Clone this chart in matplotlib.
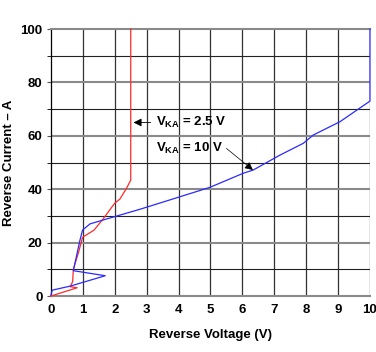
import matplotlib
matplotlib.use('Agg')
import matplotlib.pyplot as plt

plt.rcParams['font.family'] = ['Liberation Sans', 'DejaVu Sans']
plt.rcParams['mathtext.fontset'] = 'custom'
plt.rcParams['mathtext.rm'] = 'Liberation Sans:bold'

# V_KA = 2.5 V curve (red)
red_v = [0, 0.82, 0.6, 0.68, 0.7, 0.87, 0.99, 1.35, 1.63, 2.0, 2.16, 2.37, 2.5, 2.5]
red_i = [0, 3.1, 3.5, 5.4, 10, 16.6, 22, 24.7, 28.8, 34.8, 36.3, 40.4, 43.4, 100]

# V_KA = 10 V curve (blue)
blue_v = [0, 0.04, 0.6, 1.7, 0.7, 0.91, 0.99, 1.22, 1.64, 2.79, 3.78, 4.98,
          6.03, 6.34, 7.18, 7.91, 8.22, 9.06, 9.9, 10, 10]
blue_i = [0.4, 2.2, 3.7, 7.6, 9.5, 21, 24.7, 27, 28.5, 32.5, 36.2, 40.7,
          46, 47.2, 52.8, 57.2, 60.3, 65.3, 72.2, 73, 100]

x_ticks = list(range(0, 11))
y_ticks = [0, 20, 40, 60, 80, 100]

fig = plt.figure(figsize=(3.76, 3.52), dpi=100)
ax = fig.add_axes([0.1356, 0.159, 0.8484, 0.7585])

for xv in x_ticks[1:]:
    ax.axvline(xv, color='#333333', lw=0.9, zorder=1)
for yv in range(10, 100, 10):
    if yv % 20 == 0:
        ax.axhline(yv, color='#8a8a8a', lw=1.5, zorder=1)
    else:
        ax.axhline(yv, color='#222222', lw=0.8, zorder=1)

ax.plot(red_v, red_i, color='#ff2a2a', lw=0.9, zorder=3, clip_on=False)
ax.plot(blue_v, blue_i, color='#2a2aff', lw=0.9, zorder=3, clip_on=False)

ax.set_xlim(0, 10)
ax.set_ylim(0, 100)
ax.set_xticks(x_ticks)
ax.set_yticks(y_ticks)
ax.set_yticks(range(10, 100, 20), minor=True)
ax.tick_params(axis='both', labelsize=9.5, width=0.8, color='#555555')
ax.tick_params(axis='x', length=0, pad=6)
ax.tick_params(axis='y', length=3, pad=3, which='both')
for lab in ax.get_xticklabels() + ax.get_yticklabels():
    lab.set_fontweight('bold')

ax.spines['left'].set_color('black')
ax.spines['left'].set_linewidth(0.9)
ax.spines['bottom'].set_color('#8a8a8a')
ax.spines['bottom'].set_linewidth(1.5)
ax.spines['top'].set_color('#8a8a8a')
ax.spines['top'].set_linewidth(1.5)
ax.spines['right'].set_visible(False)

ax.set_xlabel('Reverse Voltage (V)', fontsize=9.5, fontweight='bold', labelpad=9)
ax.set_ylabel('Reverse Current – A', fontsize=9.5, fontweight='bold', labelpad=4)

ax.annotate(r'$\mathrm{V_{KA}}$ = 2.5 V', xy=(2.5, 65), xytext=(3.3, 65),
            fontsize=9.5, fontweight='bold', va='center', ha='left',
            arrowprops=dict(arrowstyle='-|>', color='black', lw=0.6,
                            mutation_scale=12), zorder=5)
ax.text(3.3, 55.3, r'$\mathrm{V_{KA}}$ = 10 V', fontsize=9.5, fontweight='bold',
        va='center', ha='left', zorder=5)
ax.annotate('', xy=(6.33, 47.2), xytext=(5.5, 55.3),
            arrowprops=dict(arrowstyle='-|>', color='black', lw=0.5,
                            mutation_scale=12, shrinkA=0, shrinkB=0), zorder=5)

fig.savefig('out.png', dpi=100)
